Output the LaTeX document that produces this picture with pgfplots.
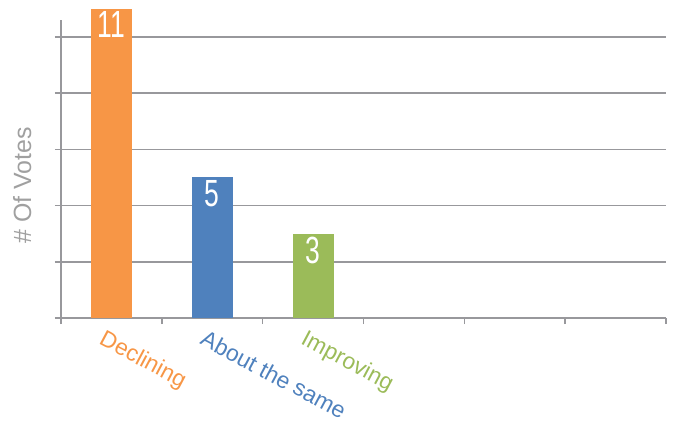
\documentclass[border=0pt]{standalone}
\usepackage{pgfplots}
\pgfplotsset{compat=1.18}
\usepackage{fontspec}
\setmainfont{Liberation Sans}
\newfontfamily\condfont[FakeStretch=0.7]{Liberation Sans}
\definecolor{decl}{RGB}{247,150,70}
\definecolor{same}{RGB}{79,129,189}
\definecolor{impr}{RGB}{155,187,89}
\definecolor{gridg}{RGB}{152,152,156}
\definecolor{labg}{RGB}{160,160,160}
\begin{document}
\begin{tikzpicture}
\begin{axis}[
  scale only axis,
  width=605bp, height=298bp,
  xmin=0.5, xmax=6.5, ymin=0, ymax=10.6,
  clip=false,
  axis x line*=bottom, axis y line*=left,
  axis line style={gridg, line width=1.6bp, -},
  xtick={0.5,1.5,...,6.5}, xticklabels={},
  ytick={0,2,...,10}, yticklabels={},
  tick align=outside, major tick length=6bp,
  tick style={gridg, line width=1.6bp},
  ymajorgrids, grid style={gridg, line width=1.6bp},
  extra x ticks={1,2,3},
  extra x tick labels={\textcolor{decl}{Declining},\textcolor{same}{About the same},\textcolor{impr}{Improving}},
  extra x tick style={major tick length=0pt, grid=none,
    xticklabel style={rotate=-28, anchor=north west, xshift=-3bp, yshift=-9bp, font=\fontsize{23}{25}\selectfont}},
  ylabel={\# Of Votes},
  ylabel style={at={(axis description cs:-0.064,0.446)}, anchor=center, labg, font=\fontsize{25}{27}\selectfont},
  ybar, bar width=41bp,
  nodes near coords={\condfont\fontsize{38}{38}\selectfont\pgfmathprintnumber[assume math mode=true]{\pgfplotspointmeta}},
  every node near coord/.append style={anchor=north, white, inner sep=3bp},
]
\addplot[fill=decl, draw=none, bar shift=0pt] coordinates {(1,11)};
\addplot[fill=same, draw=none, bar shift=0pt] coordinates {(2,5)};
\addplot[fill=impr, draw=none, bar shift=0pt] coordinates {(3,3)};
\coordinate (O) at (rel axis cs:0,0);
\end{axis}
\pgfresetboundingbox
\path (O) ++(-61bp,-104bp) rectangle ++(673bp,422bp);
\end{tikzpicture}
\end{document}
